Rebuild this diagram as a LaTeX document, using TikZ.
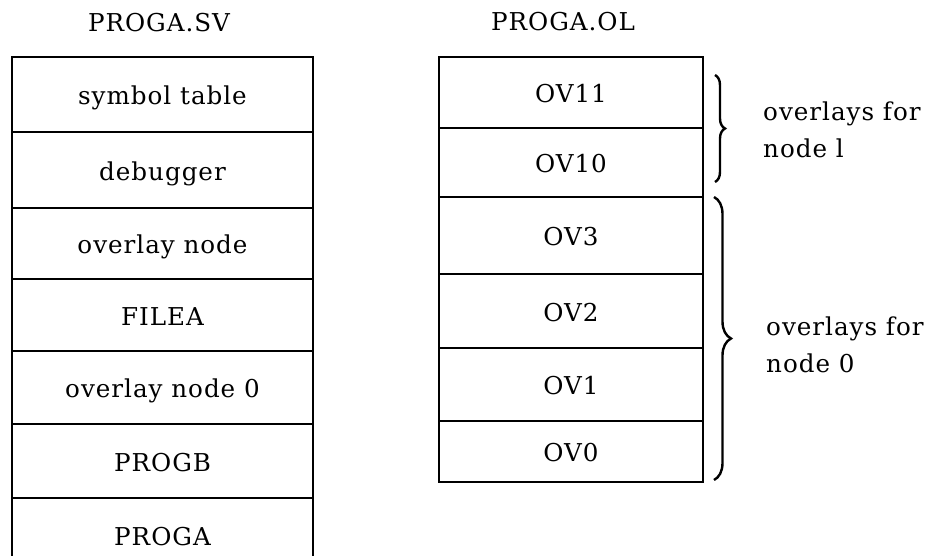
\documentclass[tikz,border=0pt]{standalone}
\usepackage{fontspec}
\setmainfont[LetterSpace=4]{DejaVu Serif}
\usetikzlibrary{decorations.pathreplacing}
\begin{document}
\begin{tikzpicture}[x=1pt,y=-1pt,
  txt/.style={font=\fontsize{24.6}{37}\selectfont, inner sep=0pt},
  lcell/.style={txt, draw, line width=2.2pt, minimum width=301pt, text height=20pt, text depth=0pt},
  rcell/.style={txt, draw, line width=2.2pt, minimum width=264pt, text height=20pt, text depth=0pt},
  bracestyle/.style={decorate, line width=2.4pt},
  lbl/.style={txt, anchor=base west}]
\useasboundingbox (0,0) rectangle (943,555);
\clip (0,0) rectangle (943,555);
% titles
\node[txt, anchor=base] (tsv) at (159,31) {PROGA.SV};
\node[txt, anchor=base] (tol) at (563,30) {PROGA.OL};
% left stack
\node[lcell, minimum height=75pt] (symtab) at (162.5,94.5) {symbol table};
\node[lcell, minimum height=76pt] (debug) at (162.5,170) {debugger};
\node[lcell, minimum height=71pt] (ovnode) at (162.5,243.5) {overlay node};
\node[lcell, minimum height=72pt] (filea) at (162.5,315) {FILEA};
\node[lcell, minimum height=73pt] (ovnode0) at (162.5,387.5) {overlay node 0};
\node[lcell, minimum height=74pt] (progb) at (162.5,461) {PROGB};
\node[lcell, minimum height=74pt] (proga) at (162.5,535) {PROGA};
% right stack
\node[rcell, minimum height=71pt] (ov11) at (571,92.5) {OV11};
\node[rcell, minimum height=69pt] (ov10) at (571,162.5) {OV10};
\node[rcell, minimum height=77pt] (ov3) at (571,235.5) {OV3};
\node[rcell, minimum height=74pt] (ov2) at (571,311) {OV2};
\node[rcell, minimum height=73pt] (ov1) at (571,384.5) {OV1};
\node[rcell, minimum height=61pt] (ov0) at (571,451.5) {OV0};
% braces
\coordinate (b1t) at (715,75);
\coordinate (b1b) at (715,182);
\coordinate (b2t) at (714,197);
\coordinate (b2b) at (714,480);
\draw[bracestyle, decoration={brace, amplitude=10pt}] (b1t) -- (b1b);
\draw[bracestyle, decoration={brace, amplitude=17pt}] (b2t) -- (b2b);
% labels
\node[lbl] (lab1) at (763,120) {\begin{tabular}[t]{@{}l@{}}overlays for\\node l\end{tabular}};
\node[lbl] (lab0) at (766,335) {\begin{tabular}[t]{@{}l@{}}overlays for\\node 0\end{tabular}};
\end{tikzpicture}
\end{document}
